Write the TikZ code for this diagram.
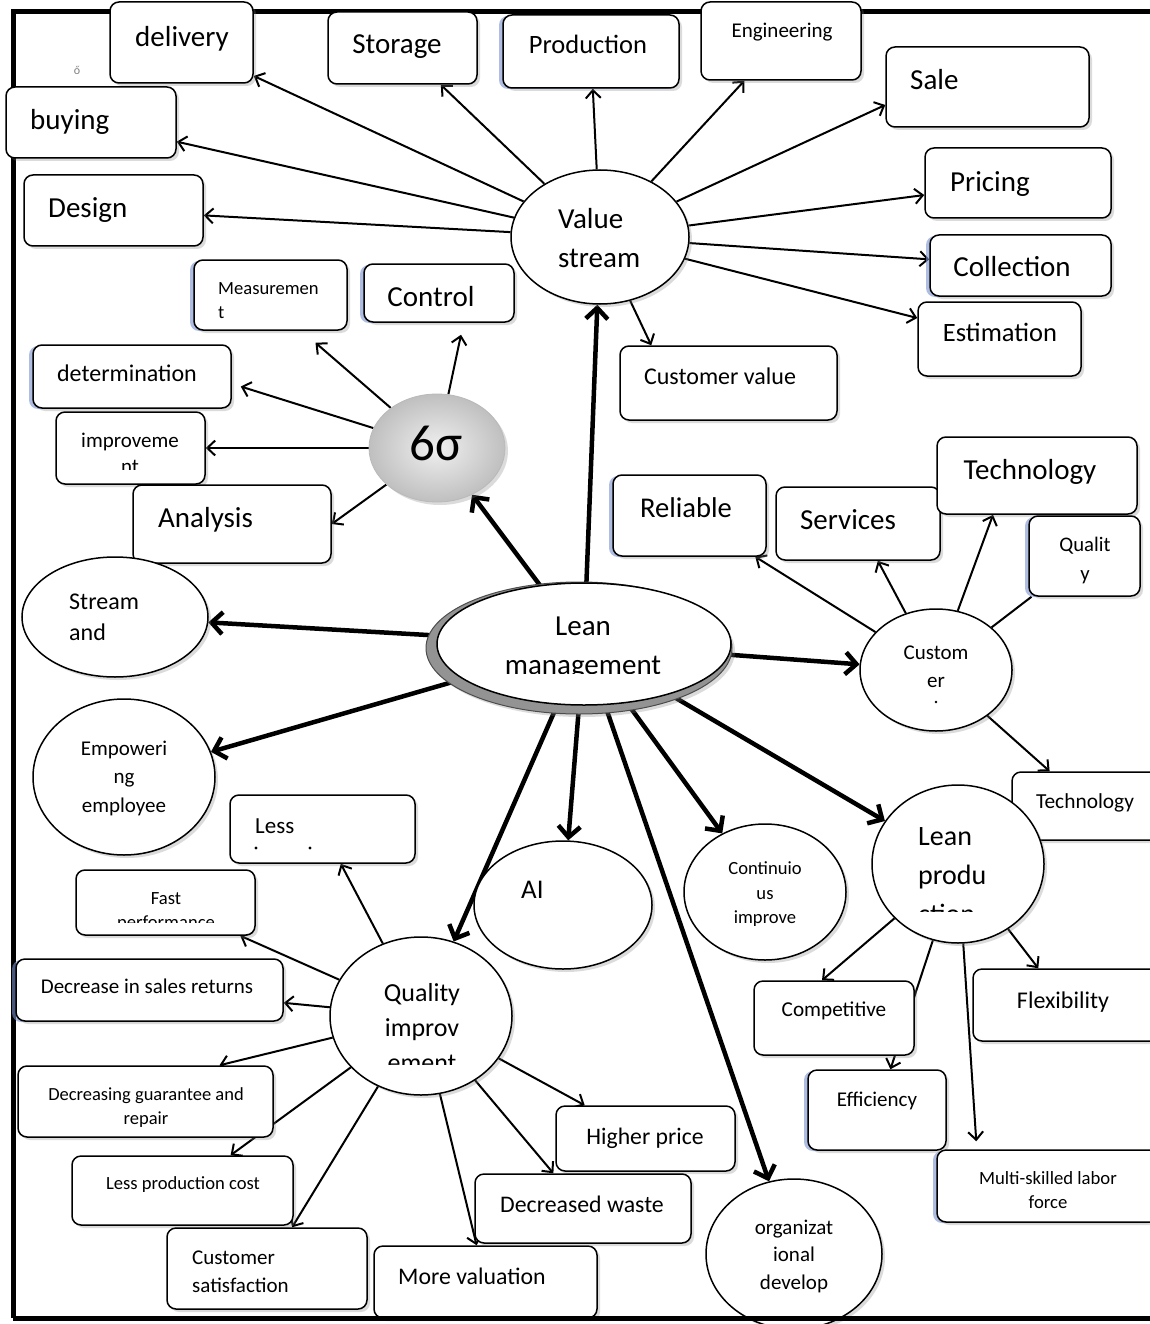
\documentclass[tikz,border=0pt]{standalone}
\usepackage{fontspec}
\setmainfont{Carlito}
\usetikzlibrary{shapes.geometric,arrows.meta,shadows,backgrounds,calc}
\tikzset{
  sh/.style={drop shadow={opacity=0.28, shadow xshift=3pt, shadow yshift=-3pt}},
  bsh/.style={drop shadow={opacity=0.6, fill={rgb,255:red,120;green,145;blue,205}, shadow xshift=-4pt, shadow yshift=-1pt}},
  box/.style={rectangle, draw=black, line width=1.5pt, rounded corners=9pt, fill=white, inner sep=0pt},
  ell/.style={ellipse, draw=black, line width=1.5pt, fill=white, inner sep=0pt},
  fs/.style={font=\fontsize{#1}{#1}\selectfont, yshift={-(0.17*#1+2)}},
  tc/.style={inner sep=0pt, anchor=mid},
  tl/.style={inner sep=0pt, anchor=mid west},
  tn/.style={line width=2pt, -{Straight Barb[length=8pt,width=15pt]}},
  tk/.style={line width=4.5pt, -{Straight Barb[length=11pt,width=22pt]}},
  ln/.style={line width=2pt},
  dotnode/.style={circle, fill=black, inner sep=1.2pt},
}
\newcommand\bx[6][]{\node[box,sh,#1,minimum width={#5-#3},minimum height={#6-#4}] (#2) at ({(#3+#5)/2},{(#4+#6)/2}) {};}
\newcommand\el[6][]{\node[ell,sh,#1,minimum width={2*#5},minimum height={2*#6}] (#2) at (#3,#4) {};}
\begin{document}
\begin{tikzpicture}[x=1pt,y=-1pt]
\useasboundingbox (0,0) rectangle (1149,1324);
% ---------- boxes
\bx{delivery}{110}{2}{253}{83}
\bx{buying}{6}{87}{176}{158}
\bx{design}{24}{175}{203}{246}
\bx{storage}{328}{12}{477}{84}
\bx[bsh]{production}{503}{15}{679}{88}
\bx{engineering}{701}{2}{861}{80}
\bx{sale}{886}{47}{1089}{127}
\bx{pricing}{925}{148}{1111}{218}
\bx[bsh]{collection}{930}{235}{1111}{296}
\bx{estimation}{918}{302}{1081}{376}
\bx{custval}{620}{346}{837}{420}
\bx[bsh]{control}{364}{264}{514}{322}
\bx[bsh]{measurement}{194}{260}{347}{330}
\bx[bsh]{determination}{33}{345}{231}{408}
\bx{improvement}{56}{412}{205}{484}
\bx{analysis}{133}{485}{331}{563}
\bx[bsh]{reliable}{613}{475}{766}{556}
\bx{services}{776}{487}{940}{560}
\bx{techbig}{937}{437}{1137}{514}
\bx[bsh]{qualbox}{1029}{516}{1140}{596}
\bx{techsmall}{1012}{772}{1165}{840}
\bx{less}{230}{795}{415}{863}
\bx{fast}{76}{870}{255}{935}
\bx[bsh]{decsales}{16}{959}{283}{1021}
\bx{decguar}{18}{1066}{273}{1137}
\bx{lesscost}{72}{1156}{293}{1225}
\bx{custsat}{167}{1228}{367}{1309}
\bx{moreval}{374}{1246}{597}{1318}
\bx{higherprice}{556}{1106}{735}{1171}
\bx{decwaste}{475}{1174}{691}{1243}
\bx{competitive}{754}{981}{914}{1055}
\bx{flexibility}{973}{969}{1160}{1041}
\bx[bsh]{efficiency}{808}{1070}{946}{1150}
\bx[bsh]{multi}{937}{1150}{1160}{1222}
% ---------- ellipses
\el{vs}{600}{237}{89}{67}
\el{sa}{115}{617}{93}{60}
\el{emp}{124}{777}{91}{78}
\el{cust}{936}{670}{76}{61}
\el{qi}{421}{1016}{91}{79}
\el{ai}{563}{905}{89}{64}
\el{ci}{765}{892}{81}{68}
\el{lp}{958}{864}{86}{79}
\el{org}{794}{1254}{88}{75}
\node[ellipse, fill=gray!85, draw=black!70, line width=1pt, minimum width=306, minimum height=132, inner sep=0pt, sh] (lmring) at (579,648) {};
\node[ell, minimum width=294, minimum height=122] (lm) at (584,644) {};
\node[ellipse, inner sep=0pt, minimum width=136, minimum height=108, shade, inner color=gray!12, outer color=gray!50, draw=gray!55, line width=0.8pt, sh] (six) at (437,448) {};
% ---------- background: frame and connectors
\begin{pgfonlayer}{background}
\fill[white] (0,0) rectangle (1149,1324);
\draw[line width=5pt] (1150,12) -- (13,12) -- (13,1318);
% value stream
\draw[tn] (vs) -- (delivery);
\draw[tn] (vs) -- (buying);
\draw[tn] (vs) -- (design);
\draw[tn] (vs) -- (storage);
\draw[tn] (vs) -- (production);
\draw[tn] (vs) -- (engineering);
\draw[tn] (vs) -- ($(sale.west)+(0,18)$);
\draw[tn] (vs) -- (pricing);
\draw[tn] (vs) -- (collection);
\draw[tn] (vs) -- (estimation);
\draw[tn] (vs) -- ($(custval.north west)+(32,0)$);
% six sigma
\draw[tn] (six) -- ($(control.south)+(22,12)$);
\draw[tn] (six) -- ($(measurement.south)+(45,12)$);
\draw[tn] (six) -- ($(determination.east)+(9,10)$);
\draw[tn] (six) -- (improvement);
\draw[tn] (six) -- (analysis.east);
% lean management
\draw[tk] (lm) -- (vs);
\draw[tk] (lm) -- (six);
\draw[tk] (lm) -- (sa);
\draw[tk] (lm) -- (emp);
\draw[tk] (lm) -- (qi);
\draw[tk] (lm) -- (ai);
\draw[tk] (lm) -- (org);
\draw[tk] (lm) -- (ci);
\draw[tk] (lm) -- (lp);
\draw[tk] (lm) -- (cust);
% customer
\draw[tn] (cust) -- (reliable);
\draw[tn] (cust) -- (services);
\draw[tn] (cust) -- ($(techbig.south)+(-44,0)$);
\draw[ln] (cust) -- (qualbox);
\draw[tn] (cust) -- (techsmall);
% quality improvement
\draw[tn] (qi) -- (less);
\draw[tn] (qi) -- (fast);
\draw[tn] (qi) -- (decsales);
\draw[tn] (qi) -- ($(decguar.north)+(74,0)$);
\draw[tn] (qi) -- (lesscost);
\draw[tn] (qi) -- (custsat);
\draw[tn] (qi) -- (moreval);
\draw[tn] (qi) -- (decwaste);
\draw[tn] (qi) -- (higherprice);
% lean production
\draw[tn] (lp) -- ($(competitive.north)+(-12,0)$);
\draw[tn] (lp) -- (efficiency);
\draw[tn] (lp) -- ($(multi.north west)+(40,-8)$);
\draw[tn] (lp) -- (flexibility);
\end{pgfonlayer}
% ---------- texts
\node[tc,fs=12,text=gray] (mark) at (77,68) {ő};
\node[tc,fs=29] (t-delivery) at (182,37) {delivery};
\node[tl,fs=29] (t-buying) at (30,120) {buying};
\node[tl,fs=29] (t-design) at (48,208) {Design};
\node[tc,fs=29] (t-storage) at (397,44) {Storage};
\node[tc,fs=26.5] (t-production) at (588,45) {Production};
\node[tc,fs=21] (t-engineering) at (782,30) {Engineering};
\node[tl,fs=29] (t-sale) at (910,80) {Sale};
\node[tl,fs=29] (t-pricing) at (950,182) {Pricing};
\node[tc,fs=29] (t-collection) at (1012,267) {Collection};
\node[tc,fs=26.5] (t-estimation) at (1000,333) {Estimation};
\node[tc,fs=24] (t-custval) at (720,376) {Customer value};
\node[tl,fs=29] (t-value) at (558,219) {Value};
\node[tl,fs=29] (t-stream) at (558,258) {stream};
\node[tc,fs=29] (t-control) at (431,297) {Control};
\node[tl,fs=18.6] (t-meas1) at (218,287) {Measuremen};
\node[tl,fs=18.6] (t-meas2) at (218,311) {t};
\node[tc,fs=24] (t-det) at (127,373) {determination};
\node[tc,fs=21] (t-imp1) at (130,440) {improveme};
\begin{scope}
\clip (0,0) rectangle (1149,469);
\node[tc,fs=21] (t-imp2) at (130,466) {nt};
\end{scope}
\node[tc,fs=51] (t-six) at (436,447) {6σ};
\node[tl,fs=29] (t-analysis) at (158,518) {Analysis};
\node[tl,fs=24] (t-sa1) at (69,601) {Stream};
\node[tl,fs=24] (t-sa2) at (69,632) {and};
\node[tc,fs=29] (t-lm1) at (583,626) {Lean};
\begin{scope}
\clip (0,0) rectangle (1149,673);
\node[tc,fs=29] (t-lm2) at (583,665) {management};
\end{scope}
\node[tc,fs=21] (t-emp1) at (124,748) {Empoweri};
\node[tc,fs=21] (t-emp2) at (124,776) {ng};
\node[tc,fs=21] (t-emp3) at (124,805) {employee};
\node[tc,fs=28.6] (t-reliable) at (686,508) {Reliable};
\node[tc,fs=29] (t-services) at (848,520) {Services};
\node[tc,fs=29] (t-techbig) at (1030,470) {Technology};
\node[tc,fs=20.7] (t-qual1) at (1085,544) {Qualit};
\node[tc,fs=20.7] (t-qual2) at (1085,573) {y};
\node[tc,fs=21] (t-cust1) at (936,652) {Custom};
\node[tc,fs=21] (t-cust2) at (936,680) {er};
\node[dotnode, inner sep=1pt] (t-cust3) at (936,702) {};
\node[tc,fs=21.4] (t-techsmall) at (1085,800) {Technology};
\node[tl,fs=23] (t-less) at (255,825) {Less};
\node[dotnode] (t-lessdot1) at (256,848) {};
\node[dotnode] (t-lessdot2) at (310,848) {};
\node[tc,fs=18.6] (t-fast1) at (166,897) {Fast};
\begin{scope}
\clip (0,0) rectangle (1149,922);
\node[tc,fs=18.6] (t-fast2) at (166,921) {performance};
\end{scope}
\node[tc,fs=21] (t-decsales) at (147,986) {Decrease in sales returns};
\node[tc,fs=18.5] (t-decg1) at (146,1093) {Decreasing guarantee and};
\node[tc,fs=18.5] (t-decg2) at (146,1117) {repair};
\node[tc,fs=18.6] (t-lesscost) at (183,1182) {Less production cost};
\node[tl,fs=21] (t-cs1) at (192,1257) {Customer};
\node[tl,fs=21] (t-cs2) at (192,1285) {satisfaction};
\node[tl,fs=23.8] (t-moreval) at (398,1276) {More valuation};
\node[tc,fs=23.8] (t-decwaste) at (582,1204) {Decreased waste};
\node[tc,fs=23.7] (t-higher) at (645,1136) {Higher price};
\node[tc,fs=26] (t-qi1) at (422,993) {Quality};
\node[tc,fs=26] (t-qi2) at (422,1028) {improv};
\begin{scope}
\clip (0,0) rectangle (1149,1064);
\node[tc,fs=26] (t-qi3) at (422,1063) {ement};
\end{scope}
\node[tl,fs=27] (t-ai) at (521,890) {AI};
\node[tc,fs=18.6] (t-ci1) at (765,867) {Continuio};
\node[tc,fs=18.6] (t-ci2) at (765,892) {us};
\node[tc,fs=18.6] (t-ci3) at (765,916) {improve};
\node[tl,fs=28] (t-lp1) at (918,836) {Lean};
\node[tl,fs=28] (t-lp2) at (918,875) {produ};
\begin{scope}
\clip (0,0) rectangle (1149,911);
\node[tl,fs=28] (t-lp3) at (918,914) {ction};
\end{scope}
\node[tc,fs=21.2] (t-comp) at (834,1008) {Competitive};
\node[tc,fs=24] (t-flex) at (1063,1000) {Flexibility};
\node[tc,fs=21] (t-eff) at (877,1099) {Efficiency};
\node[tc,fs=18.7] (t-multi1) at (1048,1177) {Multi-skilled labor};
\node[tc,fs=18.7] (t-multi2) at (1048,1201) {force};
\node[tc,fs=21] (t-org1) at (794,1227) {organizat};
\node[tc,fs=21] (t-org2) at (794,1254) {ional};
\node[tc,fs=21] (t-org3) at (794,1282) {develop};
% bottom frame line on top
\draw[line width=5pt] (13,1318) -- (1150,1318);
\end{tikzpicture}
\end{document}
